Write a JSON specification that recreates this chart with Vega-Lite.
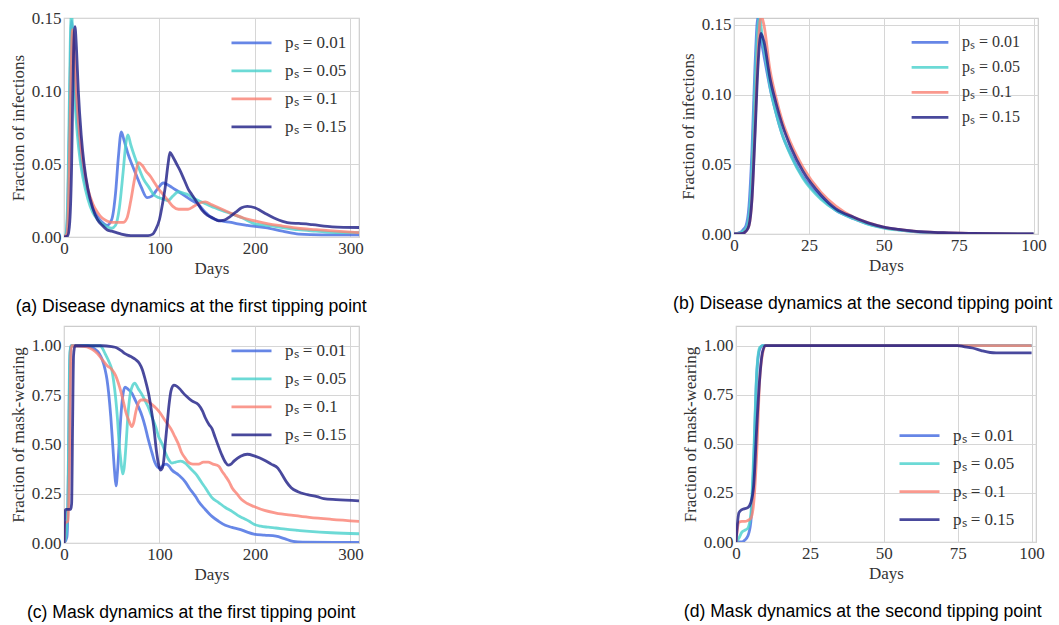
{
"$schema": "https://vega.github.io/schema/vega-lite/v6.json",
"padding": {"left": 8, "top": 8, "right": 0, "bottom": 0},
"background": "white",
"datasets": {
"a": [
{"d":0,"p":0.01,"v":0},{"d":2,"p":0.01,"v":0.001},{"d":4,"p":0.01,"v":0.02},{"d":6,"p":0.01,"v":0.09},{"d":7,"p":0.01,"v":0.13},{"d":8,"p":0.01,"v":0.148},{"d":9,"p":0.01,"v":0.14},{"d":11,"p":0.01,"v":0.11},{"d":14,"p":0.01,"v":0.08},{"d":17,"p":0.01,"v":0.06},{"d":20,"p":0.01,"v":0.045},{"d":25,"p":0.01,"v":0.03},{"d":30,"p":0.01,"v":0.02},{"d":35,"p":0.01,"v":0.014},{"d":40,"p":0.01,"v":0.01},{"d":45,"p":0.01,"v":0.008},{"d":50,"p":0.01,"v":0.012},{"d":54,"p":0.01,"v":0.03},{"d":57,"p":0.01,"v":0.055},{"d":60,"p":0.01,"v":0.072},{"d":63,"p":0.01,"v":0.066},{"d":67,"p":0.01,"v":0.057},{"d":71,"p":0.01,"v":0.05},{"d":76,"p":0.01,"v":0.042},{"d":81,"p":0.01,"v":0.034},{"d":87,"p":0.01,"v":0.027},{"d":92,"p":0.01,"v":0.028},{"d":98,"p":0.01,"v":0.033},{"d":104,"p":0.01,"v":0.037},{"d":108,"p":0.01,"v":0.036},{"d":113,"p":0.01,"v":0.034},{"d":120,"p":0.01,"v":0.031},{"d":127,"p":0.01,"v":0.028},{"d":134,"p":0.01,"v":0.025},{"d":141,"p":0.01,"v":0.022},{"d":148,"p":0.01,"v":0.017},{"d":155,"p":0.01,"v":0.013},{"d":165,"p":0.01,"v":0.011},{"d":175,"p":0.01,"v":0.01},{"d":182,"p":0.01,"v":0.009},{"d":192,"p":0.01,"v":0.008},{"d":211,"p":0.01,"v":0.0065},{"d":229,"p":0.01,"v":0.004},{"d":246,"p":0.01,"v":0.002},{"d":270,"p":0.01,"v":0.0015},{"d":309,"p":0.01,"v":0.0015},
{"d":0,"p":0.05,"v":0},{"d":2,"p":0.05,"v":0.002},{"d":4,"p":0.05,"v":0.03},{"d":6,"p":0.05,"v":0.11},{"d":7,"p":0.05,"v":0.145},{"d":8,"p":0.05,"v":0.153},{"d":9,"p":0.05,"v":0.14},{"d":11,"p":0.05,"v":0.1},{"d":14,"p":0.05,"v":0.07},{"d":17,"p":0.05,"v":0.052},{"d":20,"p":0.05,"v":0.04},{"d":25,"p":0.05,"v":0.026},{"d":30,"p":0.05,"v":0.017},{"d":35,"p":0.05,"v":0.012},{"d":40,"p":0.05,"v":0.009},{"d":45,"p":0.05,"v":0.007},{"d":50,"p":0.05,"v":0.006},{"d":54,"p":0.05,"v":0.008},{"d":58,"p":0.05,"v":0.02},{"d":62,"p":0.05,"v":0.045},{"d":65,"p":0.05,"v":0.065},{"d":67,"p":0.05,"v":0.07},{"d":70,"p":0.05,"v":0.063},{"d":74,"p":0.05,"v":0.055},{"d":78,"p":0.05,"v":0.048},{"d":83,"p":0.05,"v":0.04},{"d":89,"p":0.05,"v":0.034},{"d":94,"p":0.05,"v":0.029},{"d":99,"p":0.05,"v":0.027},{"d":104,"p":0.05,"v":0.026},{"d":109,"p":0.05,"v":0.025},{"d":114,"p":0.05,"v":0.028},{"d":120,"p":0.05,"v":0.031},{"d":125,"p":0.05,"v":0.03},{"d":130,"p":0.05,"v":0.029},{"d":137,"p":0.05,"v":0.026},{"d":144,"p":0.05,"v":0.024},{"d":151,"p":0.05,"v":0.022},{"d":158,"p":0.05,"v":0.02},{"d":166,"p":0.05,"v":0.018},{"d":175,"p":0.05,"v":0.016},{"d":187,"p":0.05,"v":0.013},{"d":200,"p":0.05,"v":0.009},{"d":212,"p":0.05,"v":0.008},{"d":227,"p":0.05,"v":0.0066},{"d":245,"p":0.05,"v":0.005},{"d":264,"p":0.05,"v":0.004},{"d":285,"p":0.05,"v":0.003},{"d":309,"p":0.05,"v":0.003},
{"d":0,"p":0.1,"v":0},{"d":3,"p":0.1,"v":0.002},{"d":5,"p":0.1,"v":0.03},{"d":7,"p":0.1,"v":0.1},{"d":8,"p":0.1,"v":0.13},{"d":9,"p":0.1,"v":0.142},{"d":10,"p":0.1,"v":0.135},{"d":12,"p":0.1,"v":0.11},{"d":15,"p":0.1,"v":0.08},{"d":18,"p":0.1,"v":0.06},{"d":21,"p":0.1,"v":0.047},{"d":25,"p":0.1,"v":0.033},{"d":30,"p":0.1,"v":0.023},{"d":35,"p":0.1,"v":0.017},{"d":40,"p":0.1,"v":0.013},{"d":45,"p":0.1,"v":0.011},{"d":50,"p":0.1,"v":0.01},{"d":55,"p":0.1,"v":0.01},{"d":62,"p":0.1,"v":0.01},{"d":66,"p":0.1,"v":0.013},{"d":70,"p":0.1,"v":0.025},{"d":74,"p":0.1,"v":0.04},{"d":78,"p":0.1,"v":0.051},{"d":82,"p":0.1,"v":0.049},{"d":86,"p":0.1,"v":0.045},{"d":90,"p":0.1,"v":0.042},{"d":95,"p":0.1,"v":0.037},{"d":99,"p":0.1,"v":0.033},{"d":104,"p":0.1,"v":0.029},{"d":109,"p":0.1,"v":0.025},{"d":114,"p":0.1,"v":0.021},{"d":120,"p":0.1,"v":0.019},{"d":126,"p":0.1,"v":0.019},{"d":130,"p":0.1,"v":0.019},{"d":136,"p":0.1,"v":0.021},{"d":141,"p":0.1,"v":0.023},{"d":148,"p":0.1,"v":0.024},{"d":155,"p":0.1,"v":0.022},{"d":162,"p":0.1,"v":0.02},{"d":169,"p":0.1,"v":0.018},{"d":176,"p":0.1,"v":0.016},{"d":188,"p":0.1,"v":0.013},{"d":200,"p":0.1,"v":0.011},{"d":214,"p":0.1,"v":0.009},{"d":229,"p":0.1,"v":0.0075},{"d":245,"p":0.1,"v":0.006},{"d":264,"p":0.1,"v":0.005},{"d":285,"p":0.1,"v":0.004},{"d":309,"p":0.1,"v":0.003},
{"d":0,"p":0.15,"v":0},{"d":4,"p":0.15,"v":0.001},{"d":6,"p":0.15,"v":0.01},{"d":8,"p":0.15,"v":0.05},{"d":9,"p":0.15,"v":0.09},{"d":10,"p":0.15,"v":0.125},{"d":11.5,"p":0.15,"v":0.144},{"d":13,"p":0.15,"v":0.13},{"d":15,"p":0.15,"v":0.1},{"d":18,"p":0.15,"v":0.07},{"d":21,"p":0.15,"v":0.05},{"d":25,"p":0.15,"v":0.033},{"d":30,"p":0.15,"v":0.02},{"d":35,"p":0.15,"v":0.012},{"d":40,"p":0.15,"v":0.008},{"d":45,"p":0.15,"v":0.005},{"d":50,"p":0.15,"v":0.004},{"d":55,"p":0.15,"v":0.003},{"d":60,"p":0.15,"v":0.002},{"d":70,"p":0.15,"v":0.001},{"d":80,"p":0.15,"v":0.001},{"d":88,"p":0.15,"v":0.001},{"d":93,"p":0.15,"v":0.002},{"d":96,"p":0.15,"v":0.005},{"d":100,"p":0.15,"v":0.012},{"d":103,"p":0.15,"v":0.022},{"d":106,"p":0.15,"v":0.034},{"d":109,"p":0.15,"v":0.05},{"d":111,"p":0.15,"v":0.058},{"d":114,"p":0.15,"v":0.055},{"d":118,"p":0.15,"v":0.05},{"d":122,"p":0.15,"v":0.045},{"d":126,"p":0.15,"v":0.039},{"d":130,"p":0.15,"v":0.033},{"d":134,"p":0.15,"v":0.029},{"d":138,"p":0.15,"v":0.025},{"d":141,"p":0.15,"v":0.022},{"d":145,"p":0.15,"v":0.018},{"d":150,"p":0.15,"v":0.015},{"d":156,"p":0.15,"v":0.013},{"d":162,"p":0.15,"v":0.011},{"d":168,"p":0.15,"v":0.0115},{"d":174,"p":0.15,"v":0.014},{"d":180,"p":0.15,"v":0.017},{"d":186,"p":0.15,"v":0.02},{"d":192,"p":0.15,"v":0.021},{"d":200,"p":0.15,"v":0.02},{"d":206,"p":0.15,"v":0.018},{"d":212,"p":0.15,"v":0.0157},{"d":220,"p":0.15,"v":0.013},{"d":229,"p":0.15,"v":0.0107},{"d":238,"p":0.15,"v":0.0095},{"d":246,"p":0.15,"v":0.0093},{"d":260,"p":0.15,"v":0.0085},{"d":281,"p":0.15,"v":0.007},{"d":309,"p":0.15,"v":0.0065}
],
"b": [
{"d":0,"p":0.01,"v":0},{"d":2,"p":0.01,"v":0.001},{"d":3,"p":0.01,"v":0.003},{"d":4,"p":0.01,"v":0.006},{"d":5,"p":0.01,"v":0.02},{"d":6,"p":0.01,"v":0.06},{"d":7,"p":0.01,"v":0.12},{"d":8,"p":0.01,"v":0.156},{"d":9,"p":0.01,"v":0.14},{"d":10,"p":0.01,"v":0.128},{"d":12,"p":0.01,"v":0.105},{"d":14,"p":0.01,"v":0.087},{"d":16,"p":0.01,"v":0.072},{"d":19,"p":0.01,"v":0.057},{"d":23,"p":0.01,"v":0.041},{"d":29,"p":0.01,"v":0.026},{"d":34,"p":0.01,"v":0.017},{"d":40,"p":0.01,"v":0.011},{"d":45,"p":0.01,"v":0.007},{"d":50,"p":0.01,"v":0.0045},{"d":55,"p":0.01,"v":0.003},{"d":60,"p":0.01,"v":0.0018},{"d":70,"p":0.01,"v":0.0008},{"d":80,"p":0.01,"v":0.0003},{"d":100,"p":0.01,"v":0},
{"d":0,"p":0.05,"v":0},{"d":2,"p":0.05,"v":0.0008},{"d":3,"p":0.05,"v":0.002},{"d":4,"p":0.05,"v":0.004},{"d":5,"p":0.05,"v":0.013},{"d":6,"p":0.05,"v":0.047},{"d":7,"p":0.05,"v":0.107},{"d":8,"p":0.05,"v":0.15},{"d":8.5,"p":0.05,"v":0.156},{"d":9.5,"p":0.05,"v":0.14},{"d":11,"p":0.05,"v":0.12},{"d":12,"p":0.05,"v":0.106},{"d":14,"p":0.05,"v":0.087},{"d":16,"p":0.05,"v":0.072},{"d":19,"p":0.05,"v":0.056},{"d":23,"p":0.05,"v":0.04},{"d":29,"p":0.05,"v":0.025},{"d":34,"p":0.05,"v":0.017},{"d":40,"p":0.05,"v":0.011},{"d":45,"p":0.05,"v":0.0068},{"d":50,"p":0.05,"v":0.0043},{"d":55,"p":0.05,"v":0.0028},{"d":60,"p":0.05,"v":0.0017},{"d":70,"p":0.05,"v":0.0007},{"d":80,"p":0.05,"v":0.0003},{"d":100,"p":0.05,"v":0},
{"d":0,"p":0.1,"v":0},{"d":3,"p":0.1,"v":0.0005},{"d":4,"p":0.1,"v":0.002},{"d":5,"p":0.1,"v":0.006},{"d":6,"p":0.1,"v":0.025},{"d":7,"p":0.1,"v":0.075},{"d":8,"p":0.1,"v":0.13},{"d":9,"p":0.1,"v":0.157},{"d":10,"p":0.1,"v":0.15},{"d":12,"p":0.1,"v":0.118},{"d":14,"p":0.1,"v":0.098},{"d":16,"p":0.1,"v":0.082},{"d":19,"p":0.1,"v":0.065},{"d":23,"p":0.1,"v":0.048},{"d":29,"p":0.1,"v":0.03},{"d":34,"p":0.1,"v":0.02},{"d":40,"p":0.1,"v":0.012},{"d":45,"p":0.1,"v":0.008},{"d":50,"p":0.1,"v":0.005},{"d":55,"p":0.1,"v":0.0033},{"d":60,"p":0.1,"v":0.002},{"d":70,"p":0.1,"v":0.0009},{"d":80,"p":0.1,"v":0.0004},{"d":100,"p":0.1,"v":0},
{"d":0,"p":0.15,"v":0},{"d":3,"p":0.15,"v":0.0005},{"d":4,"p":0.15,"v":0.002},{"d":5,"p":0.15,"v":0.006},{"d":6,"p":0.15,"v":0.025},{"d":7,"p":0.15,"v":0.07},{"d":8,"p":0.15,"v":0.12},{"d":9,"p":0.15,"v":0.144},{"d":10,"p":0.15,"v":0.138},{"d":12,"p":0.15,"v":0.112},{"d":14,"p":0.15,"v":0.094},{"d":16,"p":0.15,"v":0.079},{"d":19,"p":0.15,"v":0.062},{"d":23,"p":0.15,"v":0.045},{"d":29,"p":0.15,"v":0.028},{"d":34,"p":0.15,"v":0.018},{"d":40,"p":0.15,"v":0.012},{"d":45,"p":0.15,"v":0.0078},{"d":50,"p":0.15,"v":0.005},{"d":55,"p":0.15,"v":0.0033},{"d":60,"p":0.15,"v":0.002},{"d":70,"p":0.15,"v":0.0009},{"d":80,"p":0.15,"v":0.0004},{"d":100,"p":0.15,"v":0}
],
"c": [
{"d":0,"p":0.01,"v":0},{"d":3,"p":0.01,"v":0.03},{"d":4,"p":0.01,"v":0.15},{"d":5,"p":0.01,"v":0.5},{"d":6,"p":0.01,"v":0.9},{"d":7,"p":0.01,"v":0.99},{"d":8,"p":0.01,"v":1},{"d":25,"p":0.01,"v":1},{"d":30,"p":0.01,"v":0.99},{"d":33,"p":0.01,"v":0.98},{"d":37,"p":0.01,"v":0.96},{"d":40,"p":0.01,"v":0.93},{"d":43,"p":0.01,"v":0.88},{"d":45,"p":0.01,"v":0.83},{"d":47,"p":0.01,"v":0.75},{"d":49,"p":0.01,"v":0.64},{"d":51,"p":0.01,"v":0.5},{"d":53,"p":0.01,"v":0.36},{"d":54.5,"p":0.01,"v":0.29},{"d":56,"p":0.01,"v":0.36},{"d":58,"p":0.01,"v":0.52},{"d":60,"p":0.01,"v":0.67},{"d":62,"p":0.01,"v":0.76},{"d":64,"p":0.01,"v":0.79},{"d":67,"p":0.01,"v":0.78},{"d":71,"p":0.01,"v":0.76},{"d":75,"p":0.01,"v":0.72},{"d":78,"p":0.01,"v":0.69},{"d":82,"p":0.01,"v":0.64},{"d":85,"p":0.01,"v":0.59},{"d":88,"p":0.01,"v":0.53},{"d":92,"p":0.01,"v":0.46},{"d":95,"p":0.01,"v":0.41},{"d":98,"p":0.01,"v":0.385},{"d":101,"p":0.01,"v":0.38},{"d":104,"p":0.01,"v":0.395},{"d":107,"p":0.01,"v":0.4},{"d":110,"p":0.01,"v":0.39},{"d":113,"p":0.01,"v":0.37},{"d":120,"p":0.01,"v":0.345},{"d":127,"p":0.01,"v":0.31},{"d":131,"p":0.01,"v":0.28},{"d":134,"p":0.01,"v":0.26},{"d":138,"p":0.01,"v":0.235},{"d":141,"p":0.01,"v":0.21},{"d":148,"p":0.01,"v":0.17},{"d":155,"p":0.01,"v":0.135},{"d":162,"p":0.01,"v":0.11},{"d":169,"p":0.01,"v":0.09},{"d":176,"p":0.01,"v":0.079},{"d":185,"p":0.01,"v":0.068},{"d":192,"p":0.01,"v":0.055},{"d":199,"p":0.01,"v":0.045},{"d":210,"p":0.01,"v":0.04},{"d":222,"p":0.01,"v":0.035},{"d":231,"p":0.01,"v":0.022},{"d":240,"p":0.01,"v":0.008},{"d":250,"p":0.01,"v":0.004},{"d":309,"p":0.01,"v":0.003},
{"d":0,"p":0.05,"v":0},{"d":2,"p":0.05,"v":0.03},{"d":4,"p":0.05,"v":0.2},{"d":5,"p":0.05,"v":0.6},{"d":6,"p":0.05,"v":0.95},{"d":7,"p":0.05,"v":1},{"d":38,"p":0.05,"v":1},{"d":41,"p":0.05,"v":0.98},{"d":43,"p":0.05,"v":0.96},{"d":47,"p":0.05,"v":0.92},{"d":50,"p":0.05,"v":0.88},{"d":52,"p":0.05,"v":0.82},{"d":54,"p":0.05,"v":0.74},{"d":56,"p":0.05,"v":0.63},{"d":57.5,"p":0.05,"v":0.52},{"d":59.5,"p":0.05,"v":0.42},{"d":61.5,"p":0.05,"v":0.35},{"d":63,"p":0.05,"v":0.38},{"d":65,"p":0.05,"v":0.5},{"d":67,"p":0.05,"v":0.65},{"d":69.5,"p":0.05,"v":0.76},{"d":72,"p":0.05,"v":0.8},{"d":74,"p":0.05,"v":0.81},{"d":78,"p":0.05,"v":0.78},{"d":82,"p":0.05,"v":0.75},{"d":85,"p":0.05,"v":0.72},{"d":89,"p":0.05,"v":0.68},{"d":92,"p":0.05,"v":0.64},{"d":96,"p":0.05,"v":0.59},{"d":99,"p":0.05,"v":0.54},{"d":103,"p":0.05,"v":0.5},{"d":106,"p":0.05,"v":0.46},{"d":110,"p":0.05,"v":0.42},{"d":113,"p":0.05,"v":0.405},{"d":117,"p":0.05,"v":0.41},{"d":122,"p":0.05,"v":0.415},{"d":127,"p":0.05,"v":0.405},{"d":131,"p":0.05,"v":0.385},{"d":134,"p":0.05,"v":0.37},{"d":138,"p":0.05,"v":0.35},{"d":141,"p":0.05,"v":0.33},{"d":145,"p":0.05,"v":0.3},{"d":148,"p":0.05,"v":0.28},{"d":152,"p":0.05,"v":0.25},{"d":155,"p":0.05,"v":0.23},{"d":162,"p":0.05,"v":0.205},{"d":169,"p":0.05,"v":0.18},{"d":176,"p":0.05,"v":0.16},{"d":182,"p":0.05,"v":0.14},{"d":188,"p":0.05,"v":0.125},{"d":194,"p":0.05,"v":0.11},{"d":199,"p":0.05,"v":0.095},{"d":206,"p":0.05,"v":0.085},{"d":214,"p":0.05,"v":0.08},{"d":222,"p":0.05,"v":0.076},{"d":232,"p":0.05,"v":0.07},{"d":245,"p":0.05,"v":0.064},{"d":257,"p":0.05,"v":0.059},{"d":280,"p":0.05,"v":0.052},{"d":309,"p":0.05,"v":0.047},
{"d":0,"p":0.1,"v":0},{"d":1,"p":0.1,"v":0.1},{"d":4,"p":0.1,"v":0.11},{"d":6,"p":0.1,"v":0.5},{"d":7,"p":0.1,"v":0.95},{"d":8,"p":0.1,"v":1},{"d":22,"p":0.1,"v":0.995},{"d":26,"p":0.1,"v":0.99},{"d":30,"p":0.1,"v":0.98},{"d":35,"p":0.1,"v":0.96},{"d":40,"p":0.1,"v":0.93},{"d":45,"p":0.1,"v":0.9},{"d":50,"p":0.1,"v":0.88},{"d":54,"p":0.1,"v":0.85},{"d":57,"p":0.1,"v":0.81},{"d":60,"p":0.1,"v":0.76},{"d":62.5,"p":0.1,"v":0.71},{"d":65,"p":0.1,"v":0.66},{"d":68,"p":0.1,"v":0.62},{"d":71,"p":0.1,"v":0.59},{"d":73,"p":0.1,"v":0.61},{"d":75,"p":0.1,"v":0.66},{"d":78,"p":0.1,"v":0.71},{"d":81,"p":0.1,"v":0.725},{"d":85,"p":0.1,"v":0.725},{"d":90,"p":0.1,"v":0.71},{"d":95,"p":0.1,"v":0.69},{"d":99,"p":0.1,"v":0.67},{"d":102,"p":0.1,"v":0.65},{"d":106,"p":0.1,"v":0.62},{"d":109,"p":0.1,"v":0.6},{"d":113,"p":0.1,"v":0.57},{"d":116,"p":0.1,"v":0.54},{"d":120,"p":0.1,"v":0.5},{"d":123,"p":0.1,"v":0.46},{"d":127,"p":0.1,"v":0.43},{"d":130,"p":0.1,"v":0.41},{"d":135,"p":0.1,"v":0.4},{"d":141,"p":0.1,"v":0.4},{"d":146,"p":0.1,"v":0.41},{"d":151,"p":0.1,"v":0.41},{"d":156,"p":0.1,"v":0.4},{"d":162,"p":0.1,"v":0.39},{"d":166,"p":0.1,"v":0.36},{"d":169,"p":0.1,"v":0.34},{"d":173,"p":0.1,"v":0.31},{"d":176,"p":0.1,"v":0.28},{"d":181,"p":0.1,"v":0.25},{"d":186,"p":0.1,"v":0.22},{"d":192,"p":0.1,"v":0.2},{"d":199,"p":0.1,"v":0.185},{"d":210,"p":0.1,"v":0.165},{"d":222,"p":0.1,"v":0.152},{"d":240,"p":0.1,"v":0.14},{"d":257,"p":0.1,"v":0.13},{"d":280,"p":0.1,"v":0.12},{"d":309,"p":0.1,"v":0.11},
{"d":0,"p":0.15,"v":0},{"d":1,"p":0.15,"v":0.16},{"d":2,"p":0.15,"v":0.17},{"d":7,"p":0.15,"v":0.17},{"d":8,"p":0.15,"v":0.2},{"d":9,"p":0.15,"v":0.6},{"d":10,"p":0.15,"v":0.95},{"d":11.5,"p":0.15,"v":1},{"d":40,"p":0.15,"v":1},{"d":50,"p":0.15,"v":0.995},{"d":55,"p":0.15,"v":0.99},{"d":60,"p":0.15,"v":0.975},{"d":64,"p":0.15,"v":0.96},{"d":70,"p":0.15,"v":0.945},{"d":75,"p":0.15,"v":0.93},{"d":79,"p":0.15,"v":0.91},{"d":82,"p":0.15,"v":0.88},{"d":85,"p":0.15,"v":0.83},{"d":88.5,"p":0.15,"v":0.76},{"d":91,"p":0.15,"v":0.69},{"d":94,"p":0.15,"v":0.59},{"d":97,"p":0.15,"v":0.46},{"d":99,"p":0.15,"v":0.4},{"d":101,"p":0.15,"v":0.37},{"d":103,"p":0.15,"v":0.38},{"d":104.5,"p":0.15,"v":0.42},{"d":106,"p":0.15,"v":0.5},{"d":108,"p":0.15,"v":0.6},{"d":110,"p":0.15,"v":0.7},{"d":112,"p":0.15,"v":0.77},{"d":115,"p":0.15,"v":0.8},{"d":118,"p":0.15,"v":0.795},{"d":121.5,"p":0.15,"v":0.78},{"d":125,"p":0.15,"v":0.76},{"d":128,"p":0.15,"v":0.745},{"d":134,"p":0.15,"v":0.72},{"d":141,"p":0.15,"v":0.7},{"d":145,"p":0.15,"v":0.67},{"d":148,"p":0.15,"v":0.635},{"d":152,"p":0.15,"v":0.6},{"d":155,"p":0.15,"v":0.58},{"d":158,"p":0.15,"v":0.54},{"d":161,"p":0.15,"v":0.5},{"d":165,"p":0.15,"v":0.45},{"d":169,"p":0.15,"v":0.41},{"d":172,"p":0.15,"v":0.395},{"d":175,"p":0.15,"v":0.4},{"d":178,"p":0.15,"v":0.415},{"d":185,"p":0.15,"v":0.44},{"d":192,"p":0.15,"v":0.45},{"d":200,"p":0.15,"v":0.44},{"d":210,"p":0.15,"v":0.42},{"d":217,"p":0.15,"v":0.4},{"d":224,"p":0.15,"v":0.38},{"d":228,"p":0.15,"v":0.35},{"d":233,"p":0.15,"v":0.31},{"d":238,"p":0.15,"v":0.28},{"d":245,"p":0.15,"v":0.26},{"d":255,"p":0.15,"v":0.245},{"d":265,"p":0.15,"v":0.235},{"d":272,"p":0.15,"v":0.225},{"d":285,"p":0.15,"v":0.22},{"d":309,"p":0.15,"v":0.214}
],
"d": [
{"d":0,"p":0.01,"v":0},{"d":2,"p":0.01,"v":0},{"d":3,"p":0.01,"v":0.01},{"d":4,"p":0.01,"v":0.03},{"d":5,"p":0.01,"v":0.1},{"d":6,"p":0.01,"v":0.4},{"d":7,"p":0.01,"v":0.85},{"d":8,"p":0.01,"v":0.98},{"d":9,"p":0.01,"v":1},{"d":100,"p":0.01,"v":1},
{"d":0,"p":0.05,"v":0},{"d":1,"p":0.05,"v":0.02},{"d":2,"p":0.05,"v":0.05},{"d":3,"p":0.05,"v":0.06},{"d":4,"p":0.05,"v":0.07},{"d":5,"p":0.05,"v":0.14},{"d":6,"p":0.05,"v":0.45},{"d":7,"p":0.05,"v":0.86},{"d":8,"p":0.05,"v":0.99},{"d":9,"p":0.05,"v":1},{"d":100,"p":0.05,"v":1},
{"d":0,"p":0.1,"v":0},{"d":1,"p":0.1,"v":0.1},{"d":2,"p":0.1,"v":0.105},{"d":3,"p":0.1,"v":0.105},{"d":4,"p":0.1,"v":0.11},{"d":5,"p":0.1,"v":0.12},{"d":6,"p":0.1,"v":0.2},{"d":7,"p":0.1,"v":0.45},{"d":8,"p":0.1,"v":0.82},{"d":9,"p":0.1,"v":0.96},{"d":10,"p":0.1,"v":1},{"d":100,"p":0.1,"v":1},
{"d":0,"p":0.15,"v":0},{"d":1,"p":0.15,"v":0.15},{"d":2,"p":0.15,"v":0.165},{"d":3,"p":0.15,"v":0.17},{"d":4,"p":0.15,"v":0.175},{"d":5,"p":0.15,"v":0.2},{"d":6,"p":0.15,"v":0.29},{"d":7,"p":0.15,"v":0.58},{"d":8,"p":0.15,"v":0.83},{"d":9,"p":0.15,"v":0.97},{"d":10,"p":0.15,"v":1},{"d":75,"p":0.15,"v":1},{"d":77,"p":0.15,"v":0.995},{"d":80,"p":0.15,"v":0.988},{"d":83,"p":0.15,"v":0.975},{"d":86,"p":0.15,"v":0.965},{"d":88,"p":0.15,"v":0.963},{"d":100,"p":0.15,"v":0.963}
]
},
"vconcat": [
{"hconcat": [
{"data": {"name": "a"}, "width": 295, "height": 219,
 "title": {"text": "(a) Disease dynamics at the first tipping point", "dx": 5},
 "mark": {"type": "line", "clip": true},
 "encoding": {
  "x": {"field": "d", "type": "quantitative", "scale": {"domain": [0, 309], "nice": false, "zero": false}, "axis": {"values": [0, 100, 200, 300], "title": "Days"}},
  "y": {"field": "v", "type": "quantitative", "scale": {"domain": [0, 0.15], "nice": false}, "axis": {"values": [0, 0.05, 0.1, 0.15], "format": ".2f", "title": "Fraction of infections"}},
  "color": {"field": "p", "type": "nominal", "scale": {"domain": [0.01, 0.05, 0.1, 0.15], "range": ["#4169e1", "#48d1cc", "#fa8072", "#1c1c84"]}, "legend": {"orient": "none", "legendX": 166, "legendY": 11, "clipHeight": 27.7, "labelExpr": "'pₛ = ' + datum.label"}}
 }},
{"data": {"name": "b"}, "width": 304, "height": 216,
 "title": {"text": "(b) Disease dynamics at the second tipping point"},
 "mark": {"type": "line", "clip": true},
 "encoding": {
  "x": {"field": "d", "type": "quantitative", "scale": {"domain": [0, 101.5], "nice": false, "zero": false}, "axis": {"values": [0, 25, 50, 75, 100], "title": "Days"}},
  "y": {"field": "v", "type": "quantitative", "scale": {"domain": [0, 0.155], "nice": false}, "axis": {"values": [0, 0.05, 0.1, 0.15], "format": ".2f", "title": "Fraction of infections"}},
  "color": {"field": "p", "type": "nominal", "scale": {"domain": [0.01, 0.05, 0.1, 0.15], "range": ["#4169e1", "#48d1cc", "#fa8072", "#1c1c84"]}, "legend": {"orient": "none", "legendX": 176, "legendY": 12, "clipHeight": 24.8, "symbolSize": 1350, "labelFontSize": 16, "labelExpr": "'pₛ = ' + datum.label"}}
 }}
], "spacing": 304, "resolve": {"legend": {"color": "independent"}}},
{"hconcat": [
{"data": {"name": "c"}, "width": 295, "height": 217,
 "title": {"text": "(c) Mask dynamics at the first tipping point", "dx": 5},
 "mark": {"type": "line", "clip": true},
 "encoding": {
  "x": {"field": "d", "type": "quantitative", "scale": {"domain": [0, 309], "nice": false, "zero": false}, "axis": {"values": [0, 100, 200, 300], "title": "Days"}},
  "y": {"field": "v", "type": "quantitative", "scale": {"domain": [0, 1.1], "nice": false}, "axis": {"values": [0, 0.25, 0.5, 0.75, 1], "format": ".2f", "title": "Fraction of mask-wearing"}},
  "color": {"field": "p", "type": "nominal", "scale": {"domain": [0.01, 0.05, 0.1, 0.15], "range": ["#4169e1", "#48d1cc", "#fa8072", "#1c1c84"]}, "legend": {"orient": "none", "legendX": 166, "legendY": 11, "clipHeight": 27.7, "labelExpr": "'pₛ = ' + datum.label"}}
 }},
{"data": {"name": "d"}, "width": 300, "height": 216,
 "title": {"text": "(d) Mask dynamics at the second tipping point"},
 "mark": {"type": "line", "clip": true},
 "encoding": {
  "x": {"field": "d", "type": "quantitative", "scale": {"domain": [0, 101.5], "nice": false, "zero": false}, "axis": {"values": [0, 25, 50, 75, 100], "title": "Days"}},
  "y": {"field": "v", "type": "quantitative", "scale": {"domain": [0, 1.1], "nice": false}, "axis": {"values": [0, 0.25, 0.5, 0.75, 1], "format": ".2f", "title": "Fraction of mask-wearing"}},
  "color": {"field": "p", "type": "nominal", "scale": {"domain": [0.01, 0.05, 0.1, 0.15], "range": ["#4169e1", "#48d1cc", "#fa8072", "#1c1c84"]}, "legend": {"orient": "none", "legendX": 162, "legendY": 96, "clipHeight": 27.4, "labelExpr": "'pₛ = ' + datum.label"}}
 }}
], "spacing": 316, "resolve": {"legend": {"color": "independent"}}}
],
"spacing": 8,
"resolve": {"legend": {"color": "independent"}},
"config": {
 "view": {"stroke": "#cccccc", "strokeWidth": 1.2},
 "axis": {"grid": true, "gridColor": "#d6d6d6", "gridWidth": 1, "domain": false, "ticks": false, "labelFont": "Liberation Serif", "labelFontSize": 17, "labelColor": "#333333", "titleFont": "Liberation Serif", "titleFontSize": 17, "titleFontWeight": "normal", "titleColor": "#333333", "labelPadding": 3, "titlePadding": 4, "labelFlush": false, "labelOverlap": false, "labelBound": false},
 "legend": {"title": null, "symbolType": "stroke", "symbolStrokeWidth": 3, "symbolSize": 1600, "symbolOpacity": 0.8, "labelFont": "Liberation Serif", "labelFontSize": 17, "labelColor": "#333333", "labelOffset": 12, "padding": 0, "rowPadding": 0},
 "title": {"font": "Liberation Sans", "fontSize": 17.6, "fontWeight": "normal", "color": "#000000", "orient": "bottom", "offset": 22, "anchor": "middle", "frame": "bounds"},
 "line": {"strokeWidth": 2.8, "opacity": 0.8, "interpolate": "monotone"}
}
}
